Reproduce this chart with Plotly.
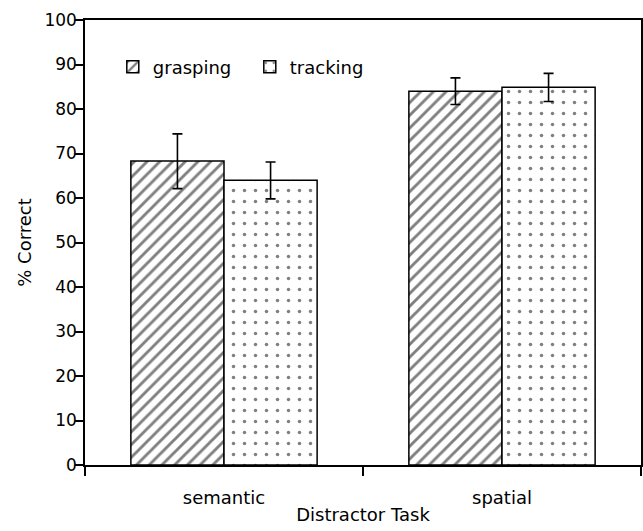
import plotly.graph_objects as go

categories = ["semantic", "spatial"]
grasping = [68.3, 84.0]
grasping_err_plus = [6.1, 3.0]
grasping_err_minus = [6.2, 3.0]
tracking = [64.0, 84.9]
tracking_err_plus = [4.1, 3.1]
tracking_err_minus = [4.2, 3.2]
y_ticks = [0, 10, 20, 30, 40, 50, 60, 70, 80, 90, 100]

FONT = "DejaVu Sans, Liberation Sans, Arial, sans-serif"

fig = go.Figure()
fig.add_trace(go.Bar(
    name="grasping", x=categories, y=grasping,
    marker=dict(color="white", line=dict(color="black", width=1.5),
                pattern=dict(shape="/", fgcolor="black", bgcolor="white", size=9, solidity=0.32)),
    error_y=dict(type="data", symmetric=False, array=grasping_err_plus, arrayminus=grasping_err_minus,
                 color="black", thickness=1.6, width=5),
))
fig.add_trace(go.Bar(
    name="tracking", x=categories, y=tracking,
    marker=dict(color="white", line=dict(color="black", width=1.5),
                pattern=dict(shape=".", fgcolor="black", bgcolor="white", size=11, solidity=0.08)),
    error_y=dict(type="data", symmetric=False, array=tracking_err_plus, arrayminus=tracking_err_minus,
                 color="black", thickness=1.6, width=5),
))

fig.update_layout(
    width=643, height=531,
    margin=dict(l=85, r=2, t=20, b=66),
    paper_bgcolor="white", plot_bgcolor="white",
    barmode="group", bargap=0.33, bargroupgap=0,
    font=dict(family=FONT, size=17, color="black"),
    showlegend=True,
    legend=dict(orientation="h", x=0.05, y=0.894, xanchor="left", yanchor="middle",
                bgcolor="rgba(0,0,0,0)", font=dict(size=18), itemwidth=30,
                entrywidth=92, entrywidthmode="pixels"),
    xaxis=dict(
        automargin=False,
        showline=True, linecolor="black", linewidth=1.5, mirror=True,
        ticks="outside", tickson="boundaries", ticklen=9, tickcolor="black", tickwidth=1.5,
        ticklabelstandoff=16,
        title=dict(text="Distractor Task", standoff=1, font=dict(size=18)),
        tickfont=dict(size=18),
    ),
    yaxis=dict(
        automargin=False,
        range=[0, 100], tickvals=y_ticks, showgrid=False, zeroline=False,
        showline=True, linecolor="black", linewidth=1.5, mirror=True,
        ticks="outside", ticklen=8, tickcolor="black", tickwidth=1.5,
        ticklabelstandoff=-5,
        title=dict(text="% Correct", standoff=8, font=dict(size=18)),
        tickfont=dict(size=17),
    ),
)

fig.write_html("out.html", config={"displayModeBar": False},
               post_script="document.body.style.margin='0';document.body.style.overflow='hidden';")
